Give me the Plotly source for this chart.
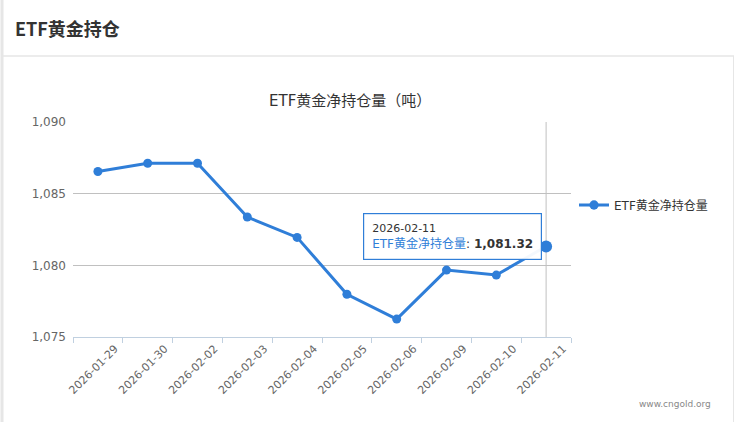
import plotly.graph_objects as go

dates = ["2026-01-29", "2026-01-30", "2026-02-02", "2026-02-03", "2026-02-04",
         "2026-02-05", "2026-02-06", "2026-02-09", "2026-02-10", "2026-02-11"]
holdings = [1086.55, 1087.12, 1087.12, 1083.37, 1081.95,
            1077.98, 1076.25, 1079.67, 1079.32, 1081.32]
y_ticks = [1075, 1080, 1085, 1090]
series_name = "ETF黄金净持仓量"
chart_title = "ETF黄金净持仓量（吨）"
page_title = "ETF黄金持仓"

W, H = 739, 422
L, R, T, B = 73, 571, 122, 337
COLOR = "#2f7ed8"
FONT = "DejaVu Sans, Noto Sans CJK SC, sans-serif"


def px(x):
    return (x - L) / (R - L)


def py(y):
    return (B - y) / (B - T)


fig = go.Figure()
fig.add_trace(go.Scatter(
    x=dates, y=holdings, name=series_name, mode="lines+markers",
    line=dict(color=COLOR, width=3),
    marker=dict(color=COLOR, size=[9] * (len(dates) - 1) + [12], opacity=1,
                line=dict(width=0)),
    hoverinfo="skip",
))

shapes = [
    # crosshair on the hovered point
    dict(type="line", xref="x", yref="paper", x0=dates[-1], x1=dates[-1], y0=0, y1=1,
         line=dict(color="#c0c0c0", width=1), layer="below"),
    # outer panel frame
    dict(type="line", xref="paper", yref="paper", x0=px(2), x1=px(2), y0=py(0), y1=py(H),
         line=dict(color="#e6e6e6", width=3)),
    dict(type="line", xref="paper", yref="paper", x0=px(3), x1=px(734), y0=py(56), y1=py(56),
         line=dict(color="#e6e6e6", width=1.5)),
    dict(type="line", xref="paper", yref="paper", x0=px(733.5), x1=px(733.5), y0=py(56), y1=py(H),
         line=dict(color="#e6e6e6", width=1)),
]

last_val = holdings[-1]
tooltip = (f"<span style='font-size:11px;color:#333'>{dates[-1]}</span><br>"
           f"<span style='color:{COLOR}'>{series_name}</span>: <b>{last_val:,.2f}</b>")

annotations = [
    dict(text=f"<b>{page_title}</b>", xref="paper", yref="paper", x=px(13), y=py(28),
         xanchor="left", yanchor="middle", showarrow=False,
         font=dict(size=18, color="#333", family="Noto Sans CJK SC, sans-serif")),
    dict(text=chart_title, xref="paper", yref="paper", x=px(350), y=py(101),
         xanchor="center", yanchor="middle", showarrow=False,
         font=dict(size=15, color="#333", family=FONT)),
    dict(text="www.cngold.org", xref="paper", yref="paper", x=px(713), y=py(404),
         xanchor="right", yanchor="middle", showarrow=False,
         font=dict(size=9, color="#888", family=FONT)),
    dict(text=tooltip, xref="paper", yref="paper", x=px(363), y=py(213),
         xanchor="left", yanchor="top", showarrow=False, align="left",
         bgcolor="rgba(255,255,255,0.95)", bordercolor=COLOR, borderwidth=1.2, borderpad=8,
         font=dict(size=12, color="#333", family=FONT)),
]

fig.update_layout(
    width=W, height=H,
    margin=dict(l=L, r=W - R, t=T, b=H - B, autoexpand=False),
    paper_bgcolor="white", plot_bgcolor="white",
    font=dict(family=FONT, size=12, color="#333"),
    showlegend=True,
    legend=dict(x=px(574), y=py(205), xanchor="left", yanchor="middle",
                font=dict(size=12, color="#333", family=FONT), itemwidth=30,
                bgcolor="rgba(0,0,0,0)"),
    xaxis=dict(type="category", tickangle=-45, showgrid=False, showline=True,
               linecolor="#c0d0e0", linewidth=1, ticks="outside", tickson="boundaries",
               ticklen=5, tickcolor="#c0d0e0", tickfont=dict(size=11, color="#666"),
               ticklabelshift=17, range=[-0.5, len(dates) - 0.5], fixedrange=True),
    yaxis=dict(range=[1075, 1090], tickvals=y_ticks, tickformat=",", showgrid=True,
               gridcolor="#c0c0c0", gridwidth=1, zeroline=False, showline=False,
               tickfont=dict(size=12, color="#666"), ticklabelstandoff=6, fixedrange=True),
    shapes=shapes, annotations=annotations,
)

fig.write_html("out.html", config={"displayModeBar": False},
               post_script="document.body.style.margin='0';")
